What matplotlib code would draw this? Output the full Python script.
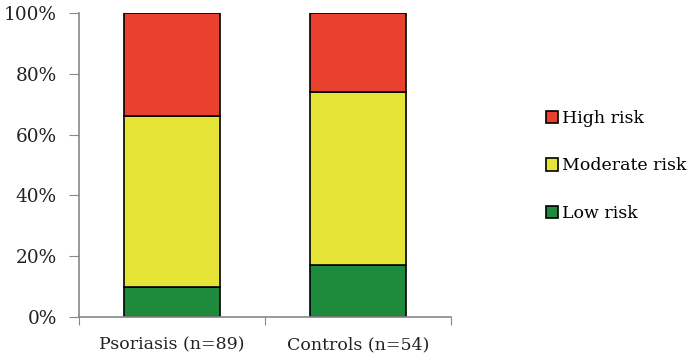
import matplotlib.pyplot as plt
from matplotlib.ticker import FuncFormatter

groups = ['Psoriasis (n=89)', 'Controls (n=54)']
low_risk = [10, 17]
moderate_risk = [56, 57]
high_risk = [34, 26]

plt.rcParams['font.family'] = ['DejaVu Serif']

fig = plt.figure(figsize=(6.89, 3.63), dpi=100)
ax = fig.add_axes([79 / 689, 1 - 317 / 363, (451 - 79) / 689, (317 - 13) / 363])

x = [0, 1]
width = 0.52
bottom_mod = low_risk
bottom_high = [l + m for l, m in zip(low_risk, moderate_risk)]

b_low = ax.bar(x, low_risk, width, color='#1e8a3c', edgecolor='black', linewidth=1.2, label='Low risk')
b_mod = ax.bar(x, moderate_risk, width, bottom=bottom_mod, color='#e6e437', edgecolor='black', linewidth=1.2, label='Moderate risk')
b_high = ax.bar(x, high_risk, width, bottom=bottom_high, color='#ea412e', edgecolor='black', linewidth=1.2, label='High risk')

ax.set_xlim(-0.5, 1.5)
ax.set_ylim(0, 100)
ax.set_yticks(range(0, 101, 20))
ax.yaxis.set_major_formatter(FuncFormatter(lambda v, _: f'{int(v)}%'))
ax.set_xticks([-0.5, 0.5, 1.5], minor=False)
ax.set_xticklabels([])
ax.set_xticks(x, minor=True)
ax.set_xticklabels(groups, minor=True)
ax.tick_params(axis='x', which='minor', length=0, pad=14, labelsize=12.5, colors='#222222')
ax.tick_params(axis='x', which='major', length=6, color='#888888')
ax.tick_params(axis='y', length=7, pad=9, color='#888888', labelsize=13.3, labelcolor='#222222')

for side in ['top', 'right']:
    ax.spines[side].set_visible(False)
for side in ['left', 'bottom']:
    ax.spines[side].set_color('#888888')
    ax.spines[side].set_linewidth(1.2)

ax.legend([b_high, b_mod, b_low], ['High risk', 'Moderate risk', 'Low risk'],
          loc='center left', bbox_to_anchor=(530 / 689, 1 - 166 / 363), bbox_transform=fig.transFigure,
          frameon=False, fontsize=12.5, handlelength=0.7, handleheight=0.7,
          handletextpad=0.25, labelspacing=1.75)

fig.savefig('out.png', dpi=100)
